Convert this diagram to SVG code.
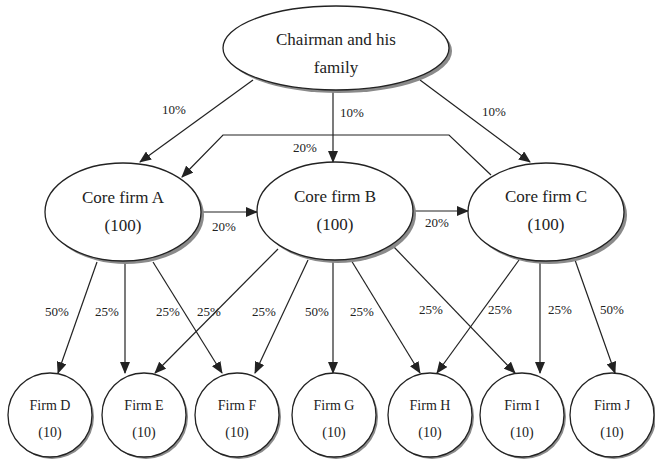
<svg xmlns="http://www.w3.org/2000/svg" width="655" height="461" viewBox="0 0 655 461">
<style>
.sh{fill:#8a8a8a;stroke:none}
.nd{fill:#fff;stroke:#222;stroke-width:1.3}
.t{font-family:"Liberation Serif","Times New Roman",serif;fill:#222;text-anchor:middle}
.big{font-size:17px}
.sm{font-size:14px}
.lb{font-family:"Liberation Serif","Times New Roman",serif;fill:#222;text-anchor:middle;font-size:13px}
.ln{fill:none;stroke:#222;stroke-width:1.2}
</style>
<defs>
<marker id="ar" markerUnits="userSpaceOnUse" markerWidth="12" markerHeight="10" viewBox="0 0 12 10" refX="11" refY="5" orient="auto">
<path d="M0,0 L12,5 L0,10 Z" fill="#222"/>
</marker>
</defs>
<g id="connectors">
<line class="ln" x1="253" y1="80" x2="140" y2="162" marker-end="url(#ar)"/>
<line class="ln" x1="333" y1="90" x2="333" y2="162" marker-end="url(#ar)"/>
<line class="ln" x1="420" y1="80" x2="530" y2="162" marker-end="url(#ar)"/>
<polyline class="ln" points="491,175 449,135 223,135 182,177" marker-end="url(#ar)"/>
<line class="ln" x1="202" y1="212" x2="257" y2="212" marker-end="url(#ar)"/>
<line class="ln" x1="413" y1="211" x2="468" y2="211" marker-end="url(#ar)"/>
<line class="ln" x1="97" y1="262" x2="58" y2="373" marker-end="url(#ar)"/>
<line class="ln" x1="125" y1="262" x2="125" y2="373" marker-end="url(#ar)"/>
<line class="ln" x1="153" y1="262" x2="222" y2="373" marker-end="url(#ar)"/>
<line class="ln" x1="278" y1="249" x2="155" y2="373" marker-end="url(#ar)"/>
<line class="ln" x1="308" y1="260" x2="255" y2="373" marker-end="url(#ar)"/>
<line class="ln" x1="333" y1="261" x2="333" y2="373" marker-end="url(#ar)"/>
<line class="ln" x1="351" y1="260" x2="420" y2="373" marker-end="url(#ar)"/>
<line class="ln" x1="393" y1="246" x2="515" y2="373" marker-end="url(#ar)"/>
<line class="ln" x1="519" y1="260" x2="437" y2="373" marker-end="url(#ar)"/>
<line class="ln" x1="540" y1="261" x2="540" y2="373" marker-end="url(#ar)"/>
<line class="ln" x1="575" y1="260" x2="615" y2="373" marker-end="url(#ar)"/>
<text class="lb" x="174" y="114">10%</text>
<text class="lb" x="352" y="117">10%</text>
<text class="lb" x="494" y="116">10%</text>
<text class="lb" x="305" y="152">20%</text>
<text class="lb" x="224" y="231">20%</text>
<text class="lb" x="437" y="227">20%</text>
<text class="lb" x="57" y="316">50%</text>
<text class="lb" x="107" y="316">25%</text>
<text class="lb" x="168" y="316">25%</text>
<text class="lb" x="209" y="316">25%</text>
<text class="lb" x="264" y="316">25%</text>
<text class="lb" x="317" y="316">50%</text>
<text class="lb" x="362" y="316">25%</text>
<text class="lb" x="431" y="314">25%</text>
<text class="lb" x="500" y="314">25%</text>
<text class="lb" x="560" y="314">25%</text>
<text class="lb" x="612" y="314">50%</text>
</g>
<g id="chairman">
<ellipse class="sh" cx="339" cy="51" rx="113" ry="42"/>
<ellipse class="nd" cx="336" cy="48" rx="113" ry="42"/>
<text class="t big" x="336" y="45">Chairman and his</text>
<text class="t big" x="336" y="73">family</text>
</g>
<g id="coreA">
<ellipse class="sh" cx="126" cy="215" rx="78" ry="49"/>
<ellipse class="nd" cx="123" cy="212" rx="78" ry="49"/>
<text class="t big" x="123" y="203">Core firm A</text>
<text class="t big" x="123" y="231">(100)</text>
</g>
<g id="coreB">
<ellipse class="sh" cx="338" cy="214" rx="78" ry="49"/>
<ellipse class="nd" cx="335" cy="211" rx="78" ry="49"/>
<text class="t big" x="335" y="202">Core firm B</text>
<text class="t big" x="335" y="230">(100)</text>
</g>
<g id="coreC">
<ellipse class="sh" cx="549" cy="215" rx="78" ry="49"/>
<ellipse class="nd" cx="546" cy="212" rx="78" ry="49"/>
<text class="t big" x="546" y="202">Core firm C</text>
<text class="t big" x="546" y="230">(100)</text>
</g>
<g id="firmD">
<circle class="sh" cx="52" cy="417" r="42"/>
<circle class="nd" cx="50" cy="415" r="42"/>
<text class="t sm" x="50" y="410">Firm D</text>
<text class="t sm" x="50" y="437">(10)</text>
</g>
<g id="firmE">
<circle class="sh" cx="146" cy="417" r="42"/>
<circle class="nd" cx="144" cy="415" r="42"/>
<text class="t sm" x="144" y="410">Firm E</text>
<text class="t sm" x="144" y="437">(10)</text>
</g>
<g id="firmF">
<circle class="sh" cx="239" cy="417" r="42"/>
<circle class="nd" cx="237" cy="415" r="42"/>
<text class="t sm" x="237" y="410">Firm F</text>
<text class="t sm" x="237" y="437">(10)</text>
</g>
<g id="firmG">
<circle class="sh" cx="336" cy="417" r="42"/>
<circle class="nd" cx="334" cy="415" r="42"/>
<text class="t sm" x="334" y="410">Firm G</text>
<text class="t sm" x="334" y="437">(10)</text>
</g>
<g id="firmH">
<circle class="sh" cx="432" cy="417" r="42"/>
<circle class="nd" cx="430" cy="415" r="42"/>
<text class="t sm" x="430" y="410">Firm H</text>
<text class="t sm" x="430" y="437">(10)</text>
</g>
<g id="firmI">
<circle class="sh" cx="524" cy="417" r="42"/>
<circle class="nd" cx="522" cy="415" r="42"/>
<text class="t sm" x="522" y="410">Firm I</text>
<text class="t sm" x="522" y="437">(10)</text>
</g>
<g id="firmJ">
<circle class="sh" cx="614" cy="417" r="42"/>
<circle class="nd" cx="612" cy="415" r="42"/>
<text class="t sm" x="612" y="410">Firm J</text>
<text class="t sm" x="612" y="437">(10)</text>
</g>
</svg>
